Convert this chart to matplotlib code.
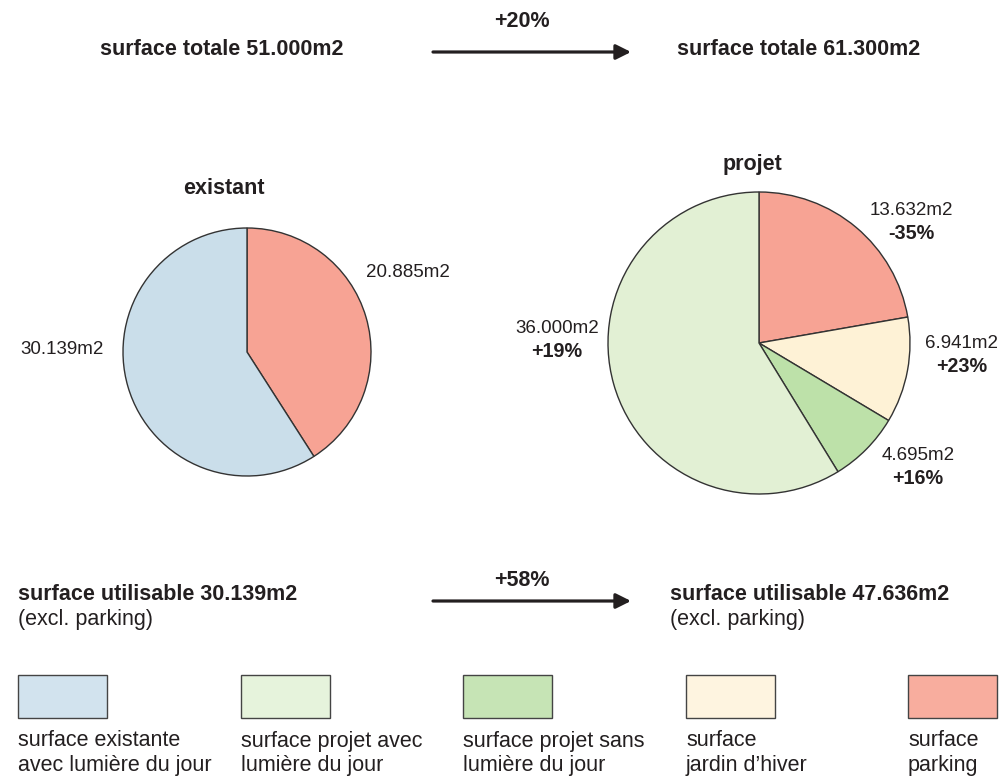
import matplotlib
matplotlib.use("Agg")
import matplotlib.pyplot as plt

plt.rcParams['font.family'] = ['Liberation Sans', 'DejaVu Sans']

# Surfaces (m2)
existant_labels = ["surface parking", "surface existante avec lumière du jour"]
existant_values = [20885, 30139]
existant_text = ["20.885m2", "30.139m2"]

projet_labels = ["surface parking", "surface jardin d'hiver",
                 "surface projet sans lumière du jour", "surface projet avec lumière du jour"]
projet_values = [13632, 6941, 4695, 36000]
projet_text = ["13.632m2", "6.941m2", "4.695m2", "36.000m2"]
projet_change = ["-35%", "+23%", "+16%", "+19%"]

legend_labels = [("surface existante", "avec lumière du jour"),
                 ("surface projet avec", "lumière du jour"),
                 ("surface projet sans", "lumière du jour"),
                 ("surface", "jardin d\u2019hiver"),
                 ("surface", "parking")]

C_BLUE = "#cadeea"
C_LGREEN = "#e2f0d4"
C_GREEN = "#bde1a9"
C_CREAM = "#fef2d6"
C_RED = "#f7a394"
legend_colors = ["#d2e3ee", "#e6f3dc", "#c6e4b5", "#fef4e0", "#f8ad9e"]

W, H = 999, 779
fig = plt.figure(figsize=(W / 100, H / 100), dpi=100)
ax = fig.add_axes([0, 0, 1, 1])


def Y(y):
    return H - y


FS = 13.5      # pie value labels
FSB = 14.2     # pie percentage labels
FSL = 15.5     # headings, legend
TXT = "#231f20"

# Pies
wp = dict(edgecolor="#333333", linewidth=1.0)
ax.pie(existant_values, colors=[C_RED, C_BLUE], startangle=90, counterclock=False,
       center=(247, Y(352)), radius=124, wedgeprops=wp, frame=True)
ax.pie(projet_values, colors=[C_RED, C_CREAM, C_GREEN, C_LGREEN], startangle=90,
       counterclock=False, center=(759, Y(343)), radius=151, wedgeprops=wp, frame=True)
ax.set_xlim(0, W)
ax.set_ylim(0, H)
ax.set_aspect('equal')
ax.axis('off')

ax.text(224, Y(188), "existant", ha='center', va='center', fontsize=FSL, fontweight='bold', color=TXT)
ax.text(752, Y(164), "projet", ha='center', va='center', fontsize=FSL, fontweight='bold', color=TXT)

# Existing pie labels
ax.text(366, Y(272), existant_text[0], ha='left', va='center', fontsize=FS, color=TXT)
ax.text(104, Y(349), existant_text[1], ha='right', va='center', fontsize=FS, color=TXT)

# Project pie labels
proj_pos = [(911, 210), (962, 343), (918, 455), (557, 328)]
for (x, y), t, c in zip(proj_pos, projet_text, projet_change):
    ax.text(x, Y(y), t, ha='center', va='center', fontsize=FS, color=TXT)
    ax.text(x, Y(y + 23), c, ha='center', va='center', fontsize=FSB, fontweight='bold', color=TXT)

# Headline totals
ax.text(100, Y(49), "surface totale 51.000m2", ha='left', va='center', fontsize=FSL, fontweight='bold', color=TXT)
ax.text(677, Y(49), "surface totale 61.300m2", ha='left', va='center', fontsize=FSL, fontweight='bold', color=TXT)
ax.text(522, Y(21), "+20%", ha='center', va='center', fontsize=FSL, fontweight='bold', color=TXT)

ax.text(18, Y(594), "surface utilisable 30.139m2", ha='left', va='center', fontsize=FSL, fontweight='bold', color=TXT)
ax.text(18, Y(620), "(excl. parking)", ha='left', va='center', fontsize=FSL, color=TXT)
ax.text(670, Y(594), "surface utilisable 47.636m2", ha='left', va='center', fontsize=FSL, fontweight='bold', color=TXT)
ax.text(670, Y(620), "(excl. parking)", ha='left', va='center', fontsize=FSL, color=TXT)
ax.text(522, Y(580), "+58%", ha='center', va='center', fontsize=FSL, fontweight='bold', color=TXT)

for yy in (52, 601):
    ax.annotate("", xy=(631, Y(yy)), xytext=(433, Y(yy)),
                arrowprops=dict(arrowstyle="-|>,head_length=0.9,head_width=0.45",
                                color=TXT, lw=2.3, shrinkA=0, shrinkB=0))

# Legend
leg_x = [18, 241, 463, 686, 908]
for x, col, (l1, l2) in zip(leg_x, legend_colors, legend_labels):
    ax.add_patch(plt.Rectangle((x, Y(718)), 89, 43, facecolor=col, edgecolor="#444444", lw=1.0))
    ax.text(x, Y(741), l1, ha='left', va='center', fontsize=FSL, color=TXT)
    ax.text(x, Y(766), l2, ha='left', va='center', fontsize=FSL, color=TXT)

fig.savefig("out.png", dpi=100)
